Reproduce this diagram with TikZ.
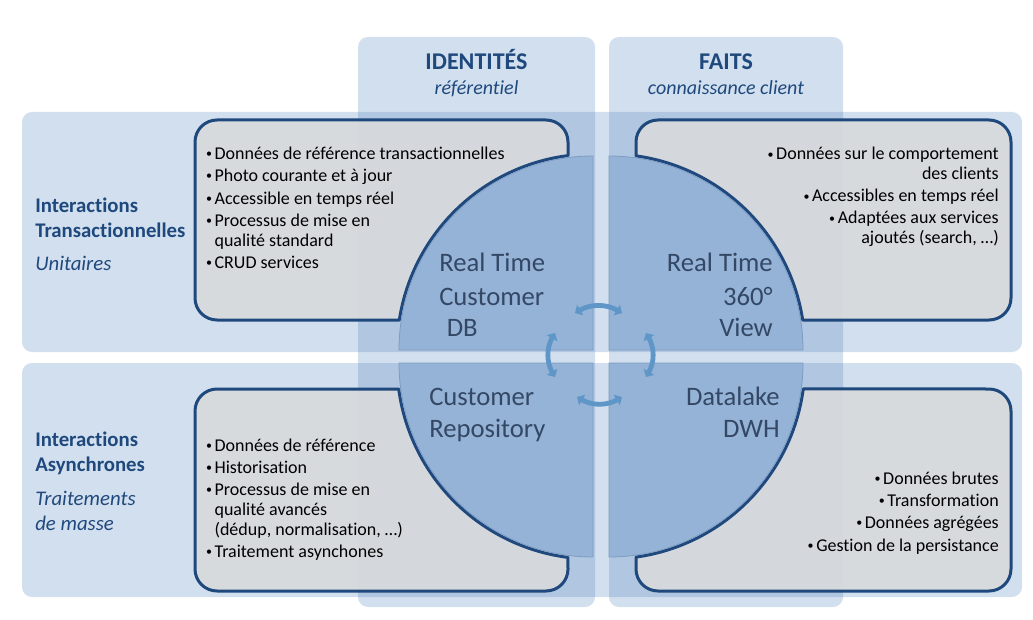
\documentclass[tikz,border=0pt]{standalone}
\usepackage{fontspec}
\setmainfont{Carlito}[Ligatures=NoCommon]
\usetikzlibrary{arrows.meta}
\definecolor{navy}{RGB}{31,73,125}
\definecolor{bandblue}{RGB}{79,129,189}
\definecolor{quadfill}{RGB}{149,179,215}
\definecolor{quadedge}{RGB}{125,155,195}
\definecolor{quadtext}{RGB}{52,72,102}
\definecolor{boxgray}{RGB}{216,218,220}
\definecolor{arrowblue}{RGB}{95,150,200}
\newcommand\mybul{\makebox[7pt][l]{\hspace{0.6pt}\raisebox{1.3pt}{\fontsize{9}{9}\selectfont •}}}
\begin{document}
\begin{tikzpicture}[x=0.75pt,y=0.75pt,
  band/.style={fill=bandblue,fill opacity=0.25,rounded corners=7.5pt},
  infobox/.style={fill=boxgray,fill opacity=0.9,draw=navy,draw opacity=1,line width=2.25pt,line join=round},
  quad/.style={fill=quadfill,draw=quadedge,line width=0.6pt},
  txt/.style={inner sep=0pt,anchor=base west},
  rtxt/.style={inner sep=0pt,anchor=base east},
  bl/.style={txt,font=\fontsize{13.5}{15}\selectfont},
  br/.style={rtxt,font=\fontsize{13.5}{15}\selectfont},
  rowlab/.style={txt,text=navy,font=\fontsize{15.6}{18}\selectfont\bfseries},
  rowsub/.style={txt,text=navy,font=\fontsize{15.6}{18}\selectfont\itshape},
  colhead/.style={inner sep=0pt,anchor=base,text=navy,font=\fontsize{18}{21}\selectfont\bfseries},
  colsub/.style={inner sep=0pt,anchor=base,text=navy,font=\fontsize{15}{18}\selectfont\itshape},
  ql/.style={txt,text=quadtext,font=\fontsize{20}{24}\selectfont},
  qr/.style={rtxt,text=quadtext,font=\fontsize{20}{24}\selectfont},
  arr/.style={draw=arrowblue,line width=3.6pt,{Triangle[width=9pt,length=4.5pt]}-{Triangle[width=9pt,length=4.5pt]}}
]
\fill[white] (0,0) rectangle (1033,619);
\useasboundingbox (0,0) rectangle (1033,619);

% bands and columns
\fill[band] (22,267) rectangle (1022,507);
\fill[band] (22,22) rectangle (1022,256);
\fill[band] (358,12) rectangle (595,582);
\fill[band] (609,12) rectangle (843,582);

% info boxes
\path[infobox] (399.3,299) -- (217,299) arc[start angle=270,end angle=180,radius=22]
  -- (195,477) arc[start angle=180,end angle=90,radius=22]
  -- (546,499) arc[start angle=90,end angle=0,radius=22]
  -- (568,463.4) arc[start angle=97.33,end angle=171.2,radius=196] -- cycle;
\path[infobox] (636,463.1) -- (636,477) arc[start angle=180,end angle=90,radius=22]
  -- (989,499) arc[start angle=90,end angle=0,radius=22]
  -- (1011,321) arc[start angle=0,end angle=-90,radius=22]
  -- (802.7,299) arc[start angle=8.8,end angle=82.08,radius=196] -- cycle;
\path[infobox] (398.7,230) arc[start angle=187.62,end angle=262.67,radius=196]
  -- (568,50) arc[start angle=0,end angle=-90,radius=22]
  -- (217,28) arc[start angle=270,end angle=180,radius=22]
  -- (195,208) arc[start angle=180,end angle=90,radius=22] -- cycle;
\path[infobox] (636,61.9) arc[start angle=-82.08,end angle=-7.62,radius=196]
  -- (989,230) arc[start angle=90,end angle=0,radius=22]
  -- (1011,50) arc[start angle=0,end angle=-90,radius=22]
  -- (658,28) arc[start angle=270,end angle=180,radius=22] -- cycle;

% quadrants
\path[quad] (593,269) -- (593,463) arc[start angle=90,end angle=180,radius=194] -- cycle;
\path[quad] (609,269) -- (803,269) arc[start angle=0,end angle=90,radius=194] -- cycle;
\path[quad] (593,256) -- (399,256) arc[start angle=180,end angle=270,radius=194] -- cycle;
\path[quad] (609,256) -- (609,62) arc[start angle=270,end angle=360,radius=194] -- cycle;

% arrows between quadrants
\coordinate (aT1) at (575,306);
\coordinate (aT2) at (622,306);
\coordinate (aB1) at (577,222);
\coordinate (aB2) at (622,222);
\coordinate (aL1) at (555,286);
\coordinate (aL2) at (555,242);
\coordinate (aR1) at (646,286);
\coordinate (aR2) at (646,242);
\draw[arr] (aT1) to[bend left=30] (aT2);
\draw[arr] (aB1) to[bend right=30] (aB2);
\draw[arr] (aL1) to[bend right=30] (aL2);
\draw[arr] (aR1) to[bend left=30] (aR2);

% column headers
\node[colhead] (hid) at (476.5,549.7) {IDENTITÉS};
\node[colsub] (hids) at (476.5,524) {référentiel};
\node[colhead] (hfa) at (726,549.7) {FAITS};
\node[colsub] (hfas) at (726,524) {connaissance client};

% row labels
\node[rowlab] (r1a) at (35,406.3) {Interactions};
\node[rowlab] (r1b) at (35,381.7) {Transactionnelles};
\node[rowsub] (r1c) at (35,348.3) {Unitaires};
\node[rowlab] (r2a) at (35,173) {Interactions};
\node[rowlab] (r2b) at (35,148) {Asynchrones};
\node[rowsub] (r2c) at (35,114) {Traitements};
\node[rowsub] (r2d) at (35,89) {de masse};

% quadrant labels
\node[ql] (q1a) at (439,347.3) {Real Time};
\node[ql] (q1b) at (439,314) {Customer};
\node[ql] (q1c) at (446.5,282.3) {DB};
\node[qr] (q2a) at (773,347.3) {Real Time};
\node[qr] (q2b) at (773,314) {360°};
\node[qr] (q2c) at (773,282.3) {View};
\node[ql] (q3a) at (429,214) {Customer};
\node[ql] (q3b) at (429,181.3) {Repository};
\node[qr] (q4a) at (780,214) {Datalake};
\node[qr] (q4b) at (780,181.3) {DWH};

% top-left bullets
\node[bl] (tl1) at (205,459.7) {\mybul Données de référence transactionnelles};
\node[bl] (tl2) at (205,437.3) {\mybul Photo courante et à jour};
\node[bl] (tl3) at (205,414.7) {\mybul Accessible en temps réel};
\node[bl] (tl4) at (205,392.3) {\mybul Processus de mise en};
\node[bl] (tl5) at (214.3,372.3) {qualité standard};
\node[bl] (tl6) at (205,350.3) {\mybul CRUD services};

% top-right bullets
\node[br] (tr1) at (999,459) {\mybul Données sur le comportement};
\node[br] (tr2) at (999,439.5) {des clients};
\node[br] (tr3) at (999,417) {\mybul Accessibles en temps réel};
\node[br] (tr4) at (999,395) {\mybul Adaptées aux services};
\node[br] (tr5) at (999,375) {ajoutés (search, …)};

% bottom-left bullets
\node[bl] (bl1) at (205,168) {\mybul Données de référence};
\node[bl] (bl2) at (205,146) {\mybul Historisation};
\node[bl] (bl3) at (205,123.5) {\mybul Processus de mise en};
\node[bl] (bl4) at (214.3,103.5) {qualité avancés};
\node[bl] (bl5) at (214.3,83.5) {(dédup, normalisation, …)};
\node[bl] (bl6) at (205,61.5) {\mybul Traitement asynchones};

% bottom-right bullets
\node[br] (br1) at (999,135) {\mybul Données brutes};
\node[br] (br2) at (999,113) {\mybul Transformation};
\node[br] (br3) at (999,90.5) {\mybul Données agrégées};
\node[br] (br4) at (999,68) {\mybul Gestion de la persistance};
\end{tikzpicture}
\end{document}
